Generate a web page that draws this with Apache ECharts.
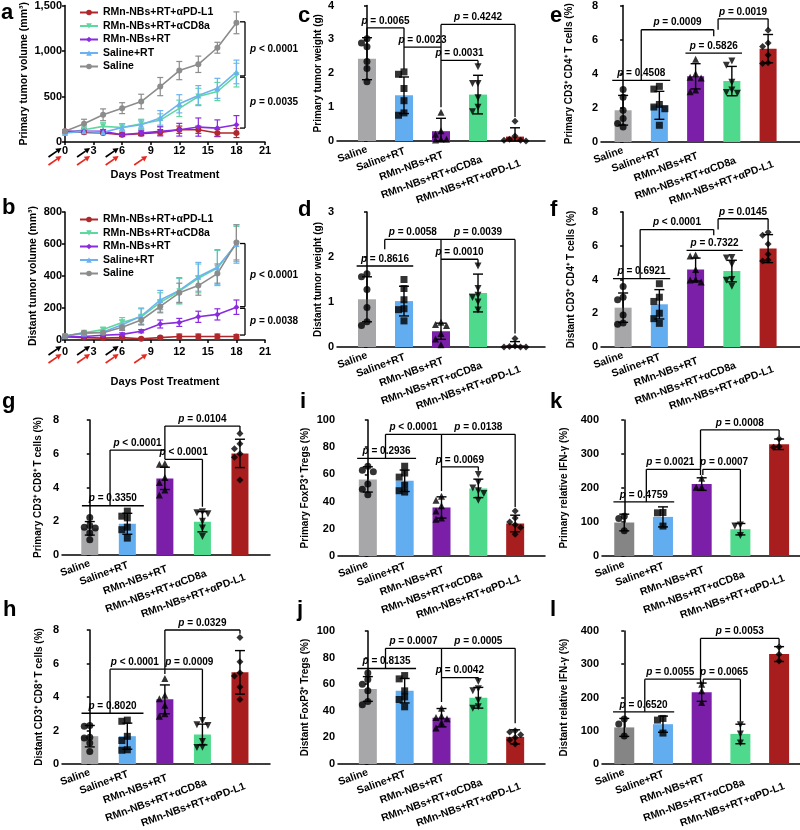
<!DOCTYPE html>
<html>
<head>
<meta charset="utf-8">
<script src="https://cdn.jsdelivr.net/npm/echarts@6/dist/echarts.min.js"></script>
<style>
  html, body { margin: 0; padding: 0; background: #fff; }
  #chart { width: 800px; height: 830px; }
</style>
</head>
<body>
<div id="chart"></div>
<script>
const FONT = '"Liberation Sans", Arial, sans-serif';

// ---- shared categories ----
const groups = ['Saline', 'Saline+RT', 'RMn-NBs+RT', 'RMn-NBs+RT+αCD8a', 'RMn-NBs+RT+αPD-L1'];
const lineNames = ['RMn-NBs+RT+αPD-L1', 'RMn-NBs+RT+αCD8a', 'RMn-NBs+RT', 'Saline+RT', 'Saline'];
const days = [0, 2, 4, 6, 8, 10, 12, 14, 16, 18];
const rtDays = [0, 3, 6];
const drugDays = [0, 3, 6, 9];

// ---- a: primary tumor volume (mm3) ----
const primVolPdl1 = [117, 106, 99, 80, 91, 106, 135, 135, 99, 99];
const primVolPdl1Err = [10, 15, 15, 15, 20, 30, 40, 40, 40, 50];
const primVolCd8 = [99, 135, 172, 160, 200, 240, 370, 500, 555, 735];
const primVolCd8Err = [10, 30, 40, 40, 50, 70, 90, 90, 100, 130];
const primVolRmn = [117, 117, 117, 80, 99, 117, 135, 164, 153, 190];
const primVolRmnErr = [10, 20, 20, 20, 30, 50, 70, 100, 90, 100];
const primVolRt = [99, 117, 106, 160, 190, 265, 420, 510, 590, 770];
const primVolRtErr = [10, 20, 20, 40, 50, 80, 100, 110, 110, 130];
const primVolSaline = [117, 200, 299, 372, 445, 609, 785, 854, 1036, 1310];
const primVolSalineErr = [15, 50, 65, 60, 80, 100, 100, 90, 60, 120];
const primVolBr = [[18.9, 1321, 726, '< 0.0001'], [18.9, 712, 153, '= 0.0035']];

// ---- b: distant tumor volume (mm3) ----
const distVolPdl1 = [20, 15, 12, 15, 8, 15, 22, 22, 22, 22];
const distVolPdl1Err = [8, 8, 5, 8, 5, 8, 15, 15, 15, 12];
const distVolCd8 = [25, 45, 65, 110, 145, 235, 305, 385, 450, 600];
const distVolCd8Err = [8, 10, 12, 30, 50, 60, 80, 90, 110, 110];
const distVolRmn = [20, 22, 30, 35, 55, 100, 110, 145, 160, 205];
const distVolRmnErr = [5, 5, 5, 10, 10, 25, 25, 35, 35, 45];
const distVolRt = [25, 40, 50, 95, 150, 250, 310, 395, 455, 600];
const distVolRtErr = [8, 10, 12, 30, 50, 60, 80, 90, 110, 120];
const distVolSaline = [25, 45, 45, 80, 125, 210, 295, 340, 415, 610];
const distVolSalineErr = [8, 8, 10, 20, 30, 40, 60, 60, 60, 110];
const distVolBr = [[18.9, 603, 208, '< 0.0001'], [18.9, 198, 31, '= 0.0038']];

// ---- bar panels: mean, SD, points, brackets [x1, x2, y, leftLegTo, rightLegTo, label, labelX] ----
const primWeightMean = [2.43, 1.35, 0.29, 1.37, 0.13];
const primWeightSd = [0.62, 0.54, 0.38, 0.57, 0.26];
const primWeightPts = [[2.89, 3.02, 2.78, 2.35, 2.14, 1.75], [1.97, 2.04, 1.55, 1.19, 0.76, 0.83], [0.85, 0.3, 0.2, 0.05, 0.05, 0.03], [2.19, 1.7, 1.7, 1.28, 1.0, 0.86], [0.58, 0.15, 0.05, 0.02, 0.02, 0.0]];
const primWeightBr = [[0, 1, 3.34, 3.07, 2.12, '= 0.0065'], [1, 2, 2.77, null, null, '= 0.0023'], [2, 3, 2.38, null, 2.24, '= 0.0031'], [2, 4, 3.44, 1.0, 0.71, '= 0.4242']];

const distWeightMean = [1.06, 1.02, 0.35, 1.2, 0.04];
const distWeightSd = [0.5, 0.33, 0.18, 0.42, 0.08];
const distWeightPts = [[1.56, 1.63, 1.28, 0.88, 0.48, 0.56], [1.5, 1.3, 1.05, 0.85, 0.83, 0.58], [0.55, 0.5, 0.48, 0.3, 0.18, 0.05], [1.8, 1.3, 1.15, 1.1, 1.0, 0.82], [0.19, 0.02, 0.01, 0.0, 0.0, 0.0]];
const distWeightBr = [[-0.28, 1.25, 1.8, null, null, '= 0.8616'], [0.48, 2, 2.39, 2.17, 0.56, '= 0.0058'], [2, 4, 2.39, null, 0.3, '= 0.0039'], [2, 3, 1.95, null, 1.8, '= 0.0010']];

const primCd4Mean = [1.86, 2.15, 3.85, 3.57, 5.47];
const primCd4Sd = [0.87, 0.82, 0.74, 0.86, 0.83];
const primCd4Pts = [[3.08, 2.63, 1.86, 1.37, 1.08, 0.88], [3.26, 3.1, 2.2, 2.05, 1.95, 0.98], [4.85, 4.0, 3.8, 3.75, 3.05, 2.95], [4.75, 4.5, 3.5, 3.05, 2.9, 2.85], [6.55, 5.8, 5.6, 5.1, 4.65, 4.6]];
const primCd4Br = [[-0.3, 1.3, 3.61, null, null, '= 0.4508'], [1.72, 3.28, 5.21, null, null, '= 0.5826'], [0.5, 2.5, 6.58, 3.61, 6.2, '= 0.0009'], [2.62, 4, 7.22, 6.58, 6.64, '= 0.0019']];

const distCd4Mean = [2.33, 2.53, 4.59, 4.5, 5.83];
const distCd4Sd = [0.87, 0.87, 0.68, 0.64, 0.83];
const distCd4Pts = [[3.58, 2.95, 2.8, 1.9, 1.42, 1.35], [3.75, 2.95, 2.7, 2.0, 1.68, 1.4], [5.45, 5.4, 4.6, 4.0, 3.97, 3.85], [5.3, 5.28, 4.9, 4.0, 3.95, 3.6], [6.8, 6.62, 6.1, 5.5, 5.15, 5.1]];
const distCd4Br = [[-0.28, 1.3, 4.05, null, null, '= 0.6921'], [1.75, 3.3, 5.73, null, null, '= 0.7322'], [0.47, 2.5, 6.96, 4.05, 6.62, '< 0.0001'], [2.62, 4, 7.6, 6.96, 7.0, '= 0.0145']];

const primCd8Mean = [1.58, 1.85, 4.54, 1.97, 6.02];
const primCd8Sd = [0.4, 0.62, 0.66, 0.6, 0.84];
const primCd8Pts = [[2.22, 1.75, 1.64, 1.6, 1.3, 0.9], [2.6, 2.3, 2.2, 1.65, 1.5, 1.0], [5.42, 5.38, 4.6, 4.3, 3.85, 3.55], [2.57, 2.5, 2.45, 2.0, 1.6, 1.1], [7.2, 6.6, 6.3, 6.0, 5.8, 4.45]];
const primCd8Br = [[-0.21, 1.44, 2.92, null, null, '= 0.3350'], [0.54, 2, 6.22, 2.92, null, '< 0.0001'], [2, 3, 5.67, null, 2.86, '< 0.0001'], [2, 4, 7.64, 5.67, 7.31, '= 0.0104']];

const distCd8Mean = [1.66, 1.66, 3.86, 1.76, 5.47];
const distCd8Sd = [0.64, 0.78, 0.86, 0.62, 1.3];
const distCd8Pts = [[2.3, 2.25, 1.6, 1.55, 1.25, 0.75], [2.62, 2.55, 1.65, 1.4, 0.85, 0.82], [5.1, 4.1, 3.9, 3.5, 3.0, 2.85], [2.6, 2.35, 2.3, 1.35, 1.0, 0.98], [7.55, 6.1, 5.45, 5.25, 4.6, 3.85]];
const distCd8Br = [[-0.22, 1.43, 3.03, null, null, '= 0.8020'], [0.54, 2, 5.66, 3.03, null, '< 0.0001', 1.2], [2, 3, 5.66, 5.37, 2.44, '= 0.0009', 2.65], [2, 4, 8.0, 5.66, 7.77, '= 0.0329']];

const primTregMean = [56.3, 55.3, 35.7, 49.7, 23.9];
const primTregSd = [9.3, 7.9, 7.8, 6.8, 6.1];
const primTregPts = [[66, 63, 62, 53, 49, 45], [66, 61, 58, 52, 48, 47], [44, 41, 37, 33, 28, 27], [60, 54, 50, 48, 46, 41], [33, 28, 25, 23, 21, 16]];
const primTregBr = [[-0.29, 1.31, 71.8, null, null, '= 0.2936'], [0.48, 2, 89.5, 71.8, 47.7, '< 0.0001'], [2, 4, 89.5, null, 36.1, '= 0.0138'], [2, 3, 65.6, null, 62.6, '= 0.0069']];

const distTregMean = [56.4, 55.1, 34.8, 49.8, 20.4];
const distTregSd = [9.3, 9.2, 6.9, 7.8, 5.3];
const distTregPts = [[68.5, 63.5, 60, 55, 47, 44.5], [66.5, 64, 55, 50.5, 48.5, 43], [42, 36, 35, 34, 31, 27], [62, 56.5, 55, 48, 43, 42], [25, 24, 22, 20, 18, 15]];
const distTregBr = [[-0.29, 1.31, 71.8, null, null, '= 0.8135'], [0.48, 2, 87, 71.8, 46.6, '= 0.0007'], [2, 4, 87, null, 30.7, '= 0.0005'], [2, 3, 65, null, 62.5, '= 0.0042']];

const primIfnMean = [98.5, 115, 211.5, 78.8, 328.6];
const primIfnSd = [24.5, 29.5, 18.5, 16.8, 15.5];
const primIfnPts = [[117, 110, 74], [128, 127, 88], [229, 203, 202], [91, 88, 60], [345, 322, 320]];
const primIfnBr = [[-0.28, 1.29, 159, null, null, '= 0.4759'], [0.57, 1.97, 254.8, 159, 238, '= 0.0021', 1.19], [2.03, 3, 254.8, 238, 100, '= 0.0007', 2.58], [1.97, 4, 370.8, 254.8, 353, '= 0.0008']];

const distIfnMean = [110, 119.7, 215.9, 90.3, 330.6];
const distIfnSd = [27, 24.3, 27.5, 29.4, 22.4];
const distIfnPts = [[135, 120, 84], [137, 132, 93], [240, 220, 185], [118, 90, 63], [352, 330, 310]];
const distIfnBr = [[-0.29, 1.29, 157, null, null, '= 0.6520'], [0.53, 1.97, 255, 157, 240, '= 0.0055', 1.19], [2.04, 3, 255, 240, 127.6, '= 0.0065', 2.58], [1.97, 4, 377.6, 255, 358, '= 0.0053']];

// ---- styling ----
const lineColors = ['#b0282b', '#5fd8a0', '#8a2be0', '#6cb2f2', '#8c8c8c'];
const invTri = 'path://M0,0L10,0L5,9Z';
const lineSymbols = ['circle', invTri, 'diamond', 'triangle', 'circle'];
const barColors = ['#a7a7aa', '#62acf0', '#7b1fa8', '#4fd98c', '#a81e1e'];
const ptSymbols = ['circle', 'rect', 'triangle', invTri, 'diamond'];
const labelDrop = [0, 4, 12, 22, 30]; // GraphPad drops longer rotated labels a little lower
const axLine = { lineStyle: { color: '#000', width: 1.5 } };
const txt = (size) => ({ color: '#000', fontFamily: FONT, fontWeight: 'bold', fontSize: size });
const pRich = { i: { fontStyle: 'italic', fontWeight: 'bold', fontSize: 10, fontFamily: FONT, fill: '#000' },
                b: { fontWeight: 'bold', fontSize: 10, fontFamily: FONT, fill: '#000' } };
const catRich = {};
labelDrop.forEach((d, i) => { catRich['c' + i] = Object.assign({ padding: [d, 0, 0, 0] }, txt(10.5)); });

const linePanels = [
  { yName: 'Primary tumor volume (mm³)', max: 1500, step: 500, box: [65, 4, 265, 142], nameGap: 35, lblMargin: 3, xNameGap: 27, legendTop: 2,
    vals: [primVolPdl1, primVolCd8, primVolRmn, primVolRt, primVolSaline],
    errs: [primVolPdl1Err, primVolCd8Err, primVolRmnErr, primVolRtErr, primVolSalineErr], br: primVolBr },
  { yName: 'Distant tumor volume (mm³)', max: 800, step: 200, box: [65, 212, 265, 340], nameGap: 26, lblMargin: 6, xNameGap: 36, legendTop: 209,
    vals: [distVolPdl1, distVolCd8, distVolRmn, distVolRt, distVolSaline],
    errs: [distVolPdl1Err, distVolCd8Err, distVolRmnErr, distVolRtErr, distVolSalineErr], br: distVolBr }
];

const barPanels = [
  { name: 'Primary tumor weight (g)', mean: primWeightMean, sd: primWeightSd, pts: primWeightPts, br: primWeightBr, max: 4, step: 1, box: [337, 5, 545, 141], xr: [-0.81, 4.81], bw: 18, nameGap: 14 },
  { name: 'Distant tumor weight (g)', mean: distWeightMean, sd: distWeightSd, pts: distWeightPts, br: distWeightBr, max: 3, step: 1, box: [337, 212, 545, 347], xr: [-0.81, 4.81], bw: 18, nameGap: 14 },
  { name: 'Primary CD3⁺ CD4⁺ T cells (%)', mean: primCd4Mean, sd: primCd4Sd, pts: primCd4Pts, br: primCd4Br, max: 8, step: 2, box: [601, 5, 800, 142], xr: [-0.61, 4.88], bw: 17, nameGap: 27 },
  { name: 'Distant CD3⁺ CD4⁺ T cells (%)', mean: distCd4Mean, sd: distCd4Sd, pts: distCd4Pts, br: distCd4Br, max: 8, step: 2, box: [601, 212, 800, 347], xr: [-0.61, 4.88], bw: 17, nameGap: 25 },
  { name: 'Primary CD3⁺ CD8⁺ T cells (%)', mean: primCd8Mean, sd: primCd8Sd, pts: primCd8Pts, br: primCd8Br, max: 8, step: 2, box: [62, 420, 270, 555], xr: [-0.74, 4.8], bw: 17, nameGap: 19 },
  { name: 'Distant CD3⁺ CD8⁺ T cells (%)', mean: distCd8Mean, sd: distCd8Sd, pts: distCd8Pts, br: distCd8Br, max: 8, step: 2, box: [62, 630, 270, 767], xr: [-0.74, 4.8], bw: 17, nameGap: 18 },
  { name: 'Primary FoxP3⁺ Tregs (%)', mean: primTregMean, sd: primTregSd, pts: primTregPts, br: primTregBr, max: 100, step: 20, box: [338, 420, 545, 556], xr: [-0.81, 4.81], bw: 18, nameGap: 28 },
  { name: 'Distant FoxP3⁺ Tregs (%)', mean: distTregMean, sd: distTregSd, pts: distTregPts, br: distTregBr, max: 100, step: 20, box: [338, 631, 545, 767], xr: [-0.81, 4.81], bw: 18, nameGap: 28 },
  { name: 'Primary relative IFN-γ (%)', mean: primIfnMean, sd: primIfnSd, pts: primIfnPts, br: primIfnBr, max: 400, step: 100, box: [602, 420, 800, 556], xr: [-0.575, 4.54], bw: 20, nameGap: 33, gray: '#858585' },
  { name: 'Distant relative IFN-γ (%)', mean: distIfnMean, sd: distIfnSd, pts: distIfnPts, br: distIfnBr, max: 400, step: 100, box: [602, 631, 800, 767], xr: [-0.575, 4.54], bw: 20, nameGap: 33, gray: '#858585' }
];

const panelLetters = [['a', 1, 24], ['b', 2, 219], ['c', 298, 27], ['d', 298, 221], ['e', 550, 27], ['f', 550, 221],
  ['g', 2, 413], ['h', 3, 621], ['i', 300, 413], ['j', 297, 621], ['k', 550, 413], ['l', 550, 621]];

// ---- render helpers ----
function lineErr(color) {
  return function (params, api) {
    const x = api.value(0), m = api.value(1), e = api.value(2);
    const t = api.coord([x, m + e]), b = api.coord([x, Math.max(0, m - e)]);
    const st = { stroke: color, lineWidth: 1.2 };
    return { type: 'group', children: [
      { type: 'line', shape: { x1: t[0], y1: t[1], x2: b[0], y2: b[1] }, style: st },
      { type: 'line', shape: { x1: t[0] - 3, y1: t[1], x2: t[0] + 3, y2: t[1] }, style: st },
      { type: 'line', shape: { x1: b[0] - 3, y1: b[1], x2: b[0] + 3, y2: b[1] }, style: st }
    ] };
  };
}

function barErr(params, api) {
  const x = api.value(0), m = api.value(1), s = api.value(2);
  const t = api.coord([x, m + s]), b = api.coord([x, Math.max(0, m - s)]);
  const st = { stroke: '#000', lineWidth: 1.4 };
  return { type: 'group', children: [
    { type: 'line', shape: { x1: t[0], y1: t[1], x2: b[0], y2: b[1] }, style: st },
    { type: 'line', shape: { x1: t[0] - 5, y1: t[1], x2: t[0] + 5, y2: t[1] }, style: st },
    { type: 'line', shape: { x1: b[0] - 5, y1: b[1], x2: b[0] + 5, y2: b[1] }, style: st }
  ] };
}

function bracketRender(list) {
  return function (params, api) {
    const [x1, x2, y, yl, yr, lab, lx] = list[params.dataIndex];
    const p1 = api.coord([x1, y]), p2 = api.coord([x2, y]);
    const st = { stroke: '#000', lineWidth: 1.3 };
    const ch = [{ type: 'line', shape: { x1: p1[0], y1: p1[1], x2: p2[0], y2: p2[1] }, style: st }];
    if (yl != null) {
      const q = api.coord([x1, yl]);
      ch.push({ type: 'line', shape: { x1: p1[0], y1: p1[1], x2: q[0], y2: q[1] }, style: st });
    }
    if (yr != null) {
      const q = api.coord([x2, yr]);
      ch.push({ type: 'line', shape: { x1: p2[0], y1: p2[1], x2: q[0], y2: q[1] }, style: st });
    }
    const cx = lx != null ? api.coord([lx, y])[0] : (p1[0] + p2[0]) / 2;
    ch.push({ type: 'text', x: cx, y: p1[1] - 2,
      style: { text: '{i|p}{b| ' + lab + '}', align: 'center', verticalAlign: 'bottom', rich: pRich } });
    return { type: 'group', children: ch };
  };
}

function sideBracket(list) {
  return function (params, api) {
    const [x, yt, yb, lab] = list[params.dataIndex];
    const t = api.coord([x, yt]), b = api.coord([x, yb]);
    const st = { stroke: '#000', lineWidth: 1.3 };
    return { type: 'group', children: [
      { type: 'line', shape: { x1: t[0], y1: t[1], x2: b[0], y2: b[1] }, style: st },
      { type: 'line', shape: { x1: t[0] - 5, y1: t[1], x2: t[0], y2: t[1] }, style: st },
      { type: 'line', shape: { x1: b[0] - 5, y1: b[1], x2: b[0], y2: b[1] }, style: st },
      { type: 'text', x: t[0] + 5, y: (t[1] + b[1]) / 2,
        style: { text: '{i|p}{b| ' + lab + '}', align: 'left', verticalAlign: 'middle', rich: pRich } }
    ] };
  };
}

function arrowRender(dy, color) {
  return function (params, api) {
    const p = api.coord([api.value(0), 0]);
    const tip = [p[0] - 3.5, p[1] + dy];
    const tail = [tip[0] - 13, tip[1] + 9];
    const ang = Math.atan2(tip[1] - tail[1], tip[0] - tail[0]);
    const hl = 5.5, hw = 3;
    const bx = tip[0] - hl * Math.cos(ang), by = tip[1] - hl * Math.sin(ang);
    const nx = -Math.sin(ang) * hw, ny = Math.cos(ang) * hw;
    return { type: 'group', children: [
      { type: 'line', shape: { x1: tail[0], y1: tail[1], x2: bx, y2: by }, style: { stroke: color, lineWidth: 1.7 } },
      { type: 'polygon', shape: { points: [tip, [bx + nx, by + ny], [bx - nx, by - ny]] }, style: { fill: color } }
    ] };
  };
}

// simple beeswarm so points with close values sit side by side
function swarm(values, pxY, pxX, size) {
  const order = values.map((v, i) => i).sort((a, b) => values[b] - values[a]);
  const placed = [];
  const offs = values.map(() => 0);
  const cands = [0, -1, 1, -2, 2, -3, 3];
  order.forEach(i => {
    for (const c of cands) {
      const ox = c * size / pxX;
      const ok = placed.every(p => {
        const dx = (p.ox - ox) * pxX, dy = (p.v - values[i]) * pxY;
        return dx * dx + dy * dy >= size * size;
      });
      if (ok) { offs[i] = ox; placed.push({ ox: ox, v: values[i] }); break; }
    }
  });
  return offs;
}

const grids = [], xAxes = [], yAxes = [], series = [], legends = [];

linePanels.forEach(p => {
  const gi = grids.length;
  const [l, t, r, b] = p.box;
  grids.push({ left: l, top: t, width: r - l, height: b - t });
  xAxes.push({ gridIndex: gi, type: 'value', min: 0, max: 21, interval: 3,
    name: 'Days Post Treatment', nameLocation: 'middle', nameGap: p.xNameGap, nameTextStyle: txt(11),
    axisLine: axLine, axisTick: { length: 3, lineStyle: { color: '#000', width: 1.5 } },
    axisLabel: Object.assign({ margin: p.lblMargin }, txt(11)), splitLine: { show: false } });
  yAxes.push({ gridIndex: gi, type: 'value', min: 0, max: p.max, interval: p.step,
    name: p.yName, nameLocation: 'middle', nameGap: p.nameGap, nameTextStyle: txt(10.5),
    axisLine: axLine, axisTick: { length: 3, lineStyle: { color: '#000', width: 1.5 } },
    axisLabel: Object.assign({ margin: 3, formatter: v => v.toLocaleString('en-US') }, txt(11)),
    splitLine: { show: false } });
  lineNames.forEach((nm, s) => {
    series.push({ type: 'custom', xAxisIndex: gi, yAxisIndex: gi, silent: true, z: 2,
      renderItem: lineErr(lineColors[s]), data: days.map((d, i) => [d, p.vals[s][i], p.errs[s][i]]) });
    series.push({ type: 'line', name: nm, xAxisIndex: gi, yAxisIndex: gi, z: 3,
      data: days.map((d, i) => [d, p.vals[s][i]]), symbol: lineSymbols[s], symbolSize: 6,
      lineStyle: { color: lineColors[s], width: 1.6 }, itemStyle: { color: lineColors[s] } });
  });
  series.push({ type: 'custom', xAxisIndex: gi, yAxisIndex: gi, silent: true, z: 5,
    renderItem: sideBracket(p.br), data: p.br.map(d => [d[0], d[1]]) });
  series.push({ type: 'custom', xAxisIndex: gi, yAxisIndex: gi, silent: true, z: 5,
    renderItem: arrowRender(6, '#000'), data: rtDays.map(d => [d, 0]) });
  series.push({ type: 'custom', xAxisIndex: gi, yAxisIndex: gi, silent: true, z: 5,
    renderItem: arrowRender(14, '#e8271e'), data: drugDays.map(d => [d, 0]) });
  legends.push({ data: lineNames, orient: 'vertical', left: 74, top: p.legendTop, itemGap: 2.5,
    itemWidth: 18, itemHeight: 7, textStyle: txt(10.5), selectedMode: false });
});

barPanels.forEach((p, k) => {
  const gi = grids.length;
  const [l, t, r, b] = p.box;
  const w = r - l, h = b - t;
  grids.push({ left: l, top: t, width: w, height: h });
  xAxes.push({ gridIndex: gi, type: 'value', min: p.xr[0], max: p.xr[1],
    axisLine: axLine, axisTick: { show: false }, splitLine: { show: false },
    axisLabel: Object.assign({ customValues: [0, 1, 2, 3, 4],
      formatter: v => { const i = Math.round(v); return '{c' + i + '|' + groups[i] + '}'; },
      rotate: 20, margin: 8, rich: catRich }, txt(10.5)) });
  yAxes.push({ gridIndex: gi, type: 'value', min: 0, max: p.max, interval: p.step,
    name: p.name, nameLocation: 'middle', nameGap: p.nameGap, nameTextStyle: txt(10),
    axisLine: axLine, axisTick: { length: 3, lineStyle: { color: '#000', width: 1.5 } },
    axisLabel: Object.assign({ margin: 3 }, txt(11)), splitLine: { show: false } });
  const cols = barColors.map((c, i) => (i === 0 && p.gray) ? p.gray : c);
  series.push({ type: 'bar', name: 'bar' + k, xAxisIndex: gi, yAxisIndex: gi, barWidth: p.bw, z: 2,
    data: p.mean.map((m, i) => ({ value: [i, m], itemStyle: { color: cols[i] } })) });
  series.push({ type: 'custom', xAxisIndex: gi, yAxisIndex: gi, silent: true, z: 3,
    renderItem: barErr, data: p.mean.map((m, i) => [i, m, p.sd[i]]) });
  const pxY = h / p.max, pxX = w / (p.xr[1] - p.xr[0]);
  const ptsData = [];
  p.pts.forEach((vals, g) => {
    const offs = swarm(vals, pxY, pxX, 5.5);
    vals.forEach((v, j) => ptsData.push({ value: [g + offs[j], v], symbol: ptSymbols[g] }));
  });
  series.push({ type: 'scatter', name: 'pts' + k, xAxisIndex: gi, yAxisIndex: gi, z: 4,
    symbolSize: 7, itemStyle: { color: '#000' }, data: ptsData });
  series.push({ type: 'custom', xAxisIndex: gi, yAxisIndex: gi, silent: true, z: 5,
    renderItem: bracketRender(p.br), data: p.br.map(d => [d[0], d[2]]) });
});

const chart = echarts.init(document.getElementById('chart'));
chart.setOption({
  animation: false,
  backgroundColor: '#fff',
  grid: grids,
  xAxis: xAxes,
  yAxis: yAxes,
  legend: legends,
  series: series,
  graphic: panelLetters.map(([s, x, y]) => ({ type: 'text', x: x, y: y,
    style: { text: s, fill: '#000', font: 'bold 22px ' + FONT, align: 'left', verticalAlign: 'bottom' } }))
});
</script>
</body>
</html>
